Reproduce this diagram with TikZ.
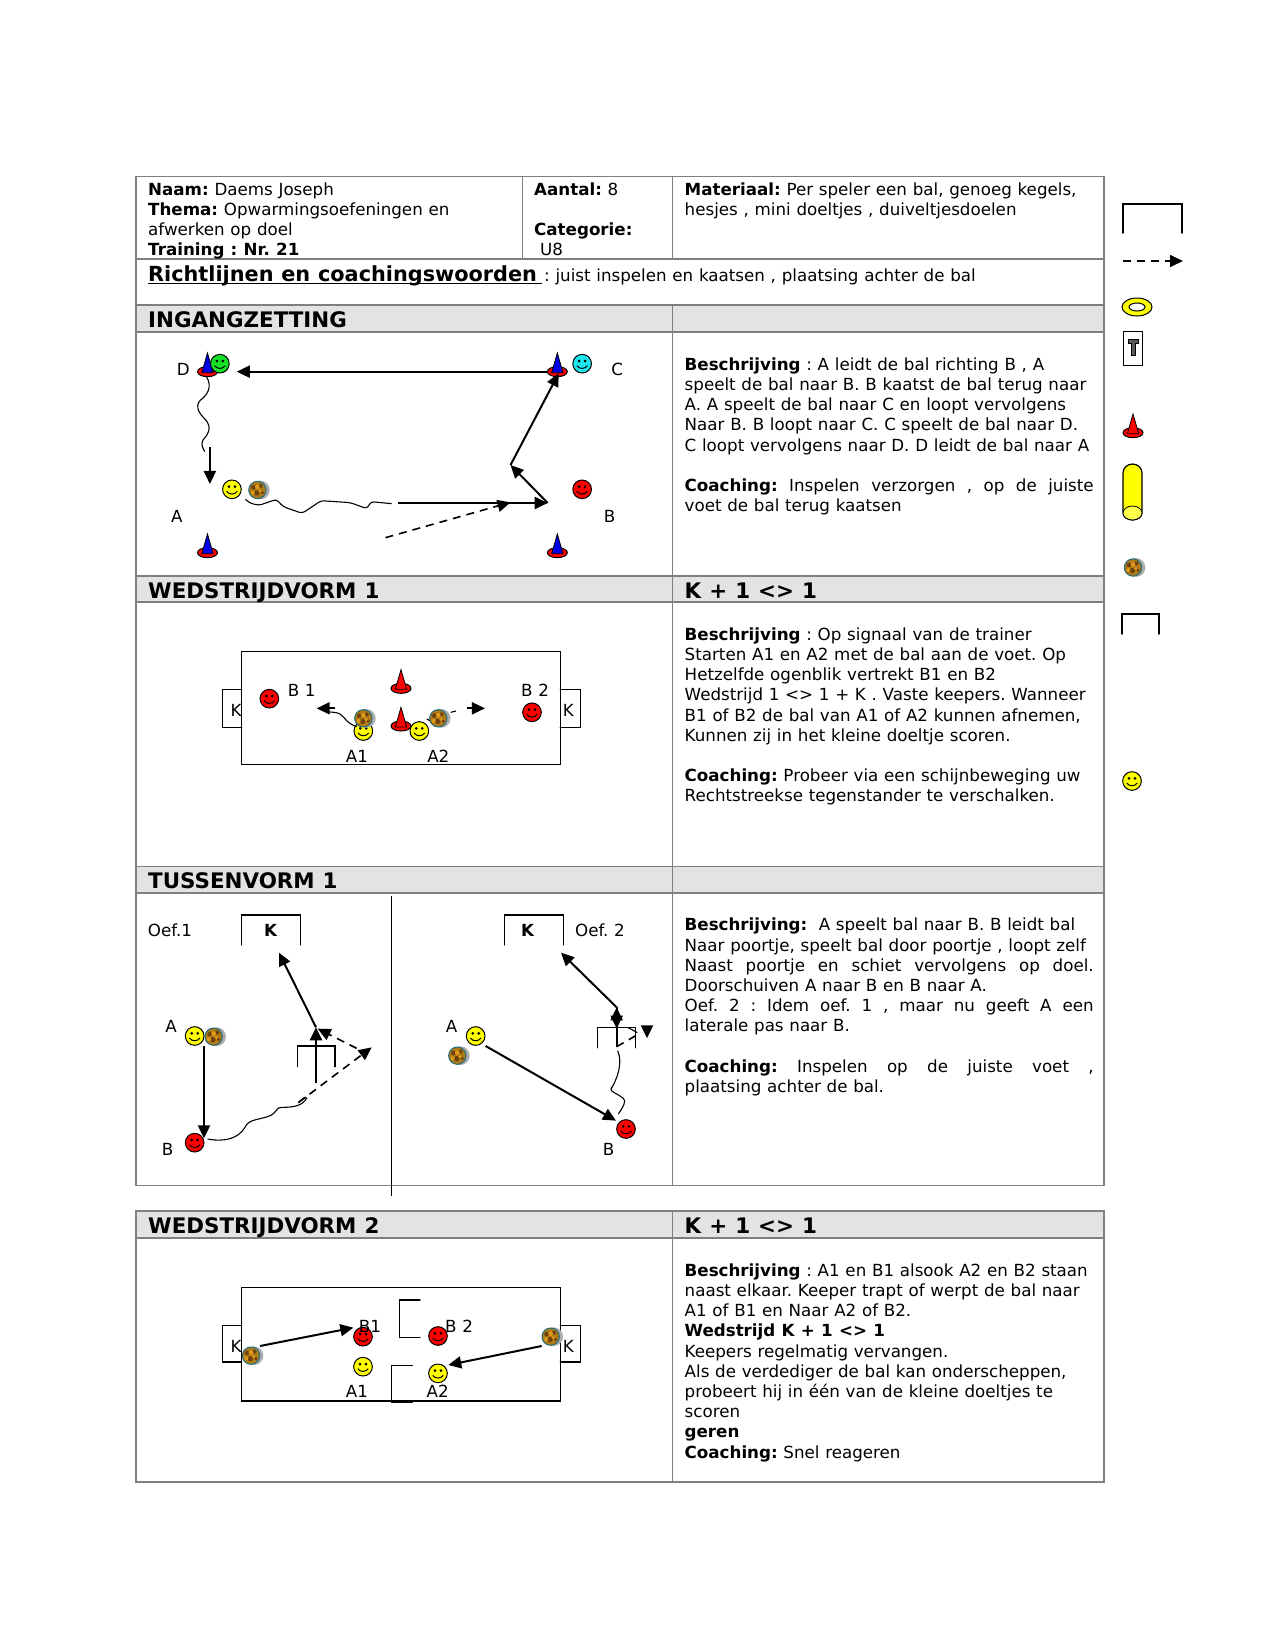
\documentclass[tikz,border=0pt]{standalone}
\usepackage{fontspec}
\setmainfont[WordSpace=1.08]{DejaVu Sans}
\usetikzlibrary{arrows.meta}
\definecolor{tline}{HTML}{7F7F7F}
\definecolor{band}{HTML}{E3E3E3}
\definecolor{ccyan}{RGB}{30,230,240}
\definecolor{cgreen}{RGB}{20,225,40}
\definecolor{cred}{RGB}{255,0,0}
\definecolor{cyel}{RGB}{255,255,0}
\definecolor{cblue}{RGB}{0,0,230}
\definecolor{ballbase}{HTML}{B07A14}
\definecolor{balldark}{HTML}{6E4210}
\definecolor{balllight}{HTML}{E09A1A}
\definecolor{ballring}{HTML}{1F6B80}
\tikzset{
  x=1pt,y=-1pt,
  tbl/.style={draw=tline,line width=1.5pt},
  txt/.style={anchor=north west,inner sep=0pt,align=left,font=\fontsize{16.7}{20.2}\selectfont},
  txttop/.style={anchor=north west,inner sep=0pt,align=left,font=\fontsize{16.7}{19.9}\selectfont},
  head/.style={anchor=base west,inner sep=0pt,font=\fontsize{21.4}{24}\selectfont\bfseries},
  lab/.style={inner sep=0pt,font=\fontsize{16.7}{20}\selectfont},
  arr/.style={line width=2pt,-{Triangle[length=13pt,width=12pt]}},
  dasharr/.style={line width=1.6pt,dash pattern=on 8pt off 6pt,-{Triangle[length=13pt,width=12pt]}},
  dsh/.style={line width=1.6pt,dash pattern=on 8pt off 6pt},
  wig/.style={line width=1.1pt,rounded corners=3pt},
  thinw/.style={line width=1.1pt},
  goal/.style={line width=1.4pt,line cap=round},
  zoomed/.style 2 args={shift={(#1,#2)},scale=1/3},
  every pic/.style={scale=1/3},
  smiley/.pic={
    \draw[fill=#1,line width=1pt] (0,0) circle[radius=28];
    \fill (-9,-8) circle[radius=4.5] (9,-8) circle[radius=4.5];
    \draw[line width=1pt] (-16,6) .. controls (-8,17) and (8,17) .. (16,6);
  },
  cone/.pic={
    \draw[fill=cred,line width=1pt] (0,0) ellipse[x radius=30,y radius=15];
    \draw[fill=#1,line width=.8pt] (0,-56) -- (17,3) -- (-17,3) -- cycle;
  },
  ball/.pic={
    \fill[black!32] (9,0) circle[radius=28];
    \draw[draw=ballring,fill=ballbase,line width=1pt] (0,0) circle[radius=26];
    \fill[balldark] (-12,-8) circle[radius=7];
    \fill[balldark] (10,-12) circle[radius=6];
    \fill[balldark] (-2,9) circle[radius=8];
    \fill[balldark] (15,8) circle[radius=5];
    \fill[balllight] (0,-9) circle[radius=7];
    \fill[balllight] (-14,8) circle[radius=6];
    \fill[balllight] (8,3) circle[radius=5];
  },
}
\newcommand{\jl}[1]{\makebox[409pt][s]{#1}}
\begin{document}
\frenchspacing
\begin{tikzpicture}
\useasboundingbox (0,0) rectangle (1275,1651);
% bands
\fill[band] (136,305) rectangle (1104,332);
\fill[band] (136,576) rectangle (1104,602);
\fill[band] (136,866.5) rectangle (1104,893);
\fill[band] (136,1211) rectangle (1104,1238);
% table lines
\draw[tbl] (136,176.5) rectangle (1104,1185.5);
\draw[tbl] (136,1211) rectangle (1104,1482);
\draw[tbl] (136,259) -- (1104,259);
\draw[tbl] (136,305) -- (1104,305);
\draw[tbl] (136,332) -- (1104,332);
\draw[tbl] (136,576) -- (1104,576);
\draw[tbl] (136,602) -- (1104,602);
\draw[tbl] (136,866.5) -- (1104,866.5);
\draw[tbl] (136,893) -- (1104,893);
\draw[tbl] (136,1238) -- (1104,1238);
\draw[tbl] (522.5,176.5) -- (522.5,259);
\draw[tbl] (672.7,176.5) -- (672.7,259);
\draw[tbl] (672.7,305) -- (672.7,1185.5);
\draw[tbl] (672.7,1211) -- (672.7,1482);
% top cells
\node[txttop] (naam) at (148,181.3) {\strut\textbf{Naam:} Daems Joseph\\\textbf{Thema:} Opwarmingsoefeningen en\\afwerken op doel\\\textbf{Training : Nr. 21}};
\node[txttop] (aantal) at (534,181.3) {\strut\textbf{Aantal:} 8\\[19.9pt]\textbf{Categorie:}\\\hspace*{6pt}U8};
\node[txttop] (mat) at (684.5,181.3) {\strut\textbf{Materiaal:} Per speler een bal, genoeg kegels,\\hesjes , mini doeltjes , duiveltjesdoelen};
\node[anchor=base west,inner sep=0pt,font=\fontsize{20.8}{24}\selectfont\bfseries] (richt) at (148,281) {Richtlijnen en coachingswoorden};
\coordinate (ulA) at (148,283.5);
\coordinate (ulB) at (542,283.5);
\draw[line width=1.7pt] (ulA) -- (ulB);
\node[anchor=base west,inner sep=0pt,font=\fontsize{16.7}{20}\selectfont] (richt2) at (544,281) {: juist inspelen en kaatsen , plaatsing achter de bal};
% headers
\node[head] (h1) at (148,327.5) {INGANGZETTING};
\node[head] (h2) at (148,598) {WEDSTRIJDVORM 1};
\node[head] (h2b) at (684.5,598) {K + 1 <> 1};
\node[head] (h3) at (148,888.5) {TUSSENVORM 1};
\node[head] (h4) at (148,1233) {WEDSTRIJDVORM 2};
\node[head] (h4b) at (684.5,1233) {K + 1 <> 1};
% descriptions
\node[txt] (d1) at (684.5,356) {\strut\textbf{Beschrijving} : A leidt de bal richting B , A\\speelt de bal naar B. B kaatst de bal terug naar\\A. A speelt de bal naar C en loopt vervolgens\\Naar B. B loopt naar C. C speelt de bal naar D.\\C loopt vervolgens naar D. D leidt de bal naar A\\[20.2pt]\jl{\textbf{Coaching:} Inspelen verzorgen , op de juiste}\\voet de bal terug kaatsen};
\node[txt] (d2) at (684.5,626) {\strut\textbf{Beschrijving} : Op signaal van de trainer\\Starten A1 en A2 met de bal aan de voet. Op\\Hetzelfde ogenblik vertrekt B1 en B2\\Wedstrijd 1 <> 1 + K . Vaste keepers. Wanneer\\B1 of B2 de bal van A1 of A2 kunnen afnemen,\\Kunnen zij in het kleine doeltje scoren.\\[20.2pt]\textbf{Coaching:} Probeer via een schijnbeweging uw\\Rechtstreekse tegenstander te verschalken.};
\node[txt] (d3) at (684.5,916.5) {\strut\textbf{Beschrijving:} \ A speelt bal naar B. B leidt bal\\Naar poortje, speelt bal door poortje , loopt zelf\\\jl{Naast poortje en schiet vervolgens op doel.}\\Doorschuiven A naar B en B naar A.\\\jl{Oef. 2 : Idem oef. 1 , maar nu geeft A een}\\laterale pas naar B.\\[20.2pt]\jl{\textbf{Coaching:} Inspelen op de juiste voet ,}\\plaatsing achter de bal.};
\node[txt] (d4) at (684.5,1262) {\strut\textbf{Beschrijving} : A1 en B1 alsook A2 en B2 staan\\naast elkaar. Keeper trapt of werpt de bal naar\\A1 of B1 en Naar A2 of B2.\\\textbf{Wedstrijd K + 1 <> 1}\\Keepers regelmatig vervangen.\\Als de verdediger de bal kan onderscheppen,\\probeert hij in één van de kleine doeltjes te\\scoren\\\textbf{geren}\\\textbf{Coaching:} Snel reageren};

% INGANGZETTING
\begin{scope}[shift={(130,170)},xscale=1/2.904,yscale=1/3]
  \pic at (225,605) {cone=cblue};
  \pic at (1241,605) {cone=cblue};
  \pic at (225,1148) {cone=cblue};
  \pic at (1241,1148) {cone=cblue};
  \pic at (261,581) {smiley=cgreen};
  \pic at (1313,581) {smiley=ccyan};
  \pic at (296,958) {smiley=cyel};
  \pic at (1313,958) {smiley=cred};
  \pic at (370,960) {ball};
  \node[lab] (lD) at (155,597) {D};
  \node[lab] (lC) at (1415,597) {C};
  \node[lab] (lA) at (136,1038) {A};
  \node[lab] (lB) at (1393,1038) {B};
  \coordinate (cC) at (1213,605);
  \coordinate (cD) at (310,605);
  \coordinate (cE) at (232,830);
  \coordinate (cF) at (232,942);
  \coordinate (cG) at (777,999);
  \coordinate (cH) at (1213,999);
  \coordinate (cI) at (1105,885);
  \coordinate (cJ) at (1245,610);
  \coordinate (cK) at (742,1103);
  \coordinate (cL) at (1105,997);
  \draw[arr] (cC) -- (cD);
  \draw[arr] (cE) -- (cF);
  \draw[arr] (cG) -- (cH);
  \draw[arr] (cH) -- (cI);
  \draw[arr] (cI) -- (cJ);
  \draw[dasharr] (cK) -- (cL);
  \draw[thinw] (222,620) .. controls (240,650) and (225,675) .. (205,690) .. controls (185,710) and (205,735) .. (220,750) .. controls (240,775) and (225,795) .. (212,810) .. controls (205,825) and (212,835) .. (217,845);
  \draw[wig] (335,988) -- (350,1000) -- (375,1006) -- (425,988) -- (445,1010) -- (500,1030) -- (555,992) -- (640,998) -- (688,1016) -- (700,995) -- (760,1001);
\end{scope}

% WEDSTRIJDVORM 1
\begin{scope}[zoomed={200}{630}]
  \draw[goal] (125,65) rectangle (1081,403);
  \draw[goal] (125,178) -- (67,178) -- (67,292) -- (125,292);
  \draw[goal] (1081,178) -- (1142,178) -- (1142,292) -- (1081,292);
  \node[lab] (k1) at (108,240) {K};
  \node[lab] (k2) at (1105,240) {K};
  \pic at (208,206) {smiley=cred};
  \pic at (996,247) {smiley=cred};
  \pic at (490,303) {smiley=cyel};
  \pic at (658,303) {smiley=cyel};
  \pic at (490,265) {ball};
  \pic at (715,265) {ball};
  \pic at (603,175) {cone=cred};
  \pic at (603,288) {cone=cred};
  \node[lab] (b1) at (305,180) {B 1};
  \node[lab] (b2) at (1005,180) {B 2};
  \node[lab] (a1) at (471,380) {A1};
  \node[lab] (a2) at (715,380) {A2};
  \coordinate (wA) at (405,235);
  \coordinate (wB) at (350,235);
  \coordinate (wC) at (800,235);
  \coordinate (wD) at (855,235);
  \draw[arr] (wA) -- (wB);
  \draw[arr] (wC) -- (wD);
  \draw[thinw] (470,290) .. controls (440,280) and (435,262) .. (420,252) .. controls (410,246) and (395,247) .. (380,245);
  \draw[thinw] (752,247) -- (768,243);
  \draw[thinw] (680,267) -- (690,272);
\end{scope}

% TUSSENVORM oef 1
\begin{scope}[zoomed={135}{890}]
  \draw[line width=1.4pt] (770,18) -- (770,918);
  \draw[goal] (320,165) -- (320,75) -- (496,75) -- (496,165);
  \node[lab,font=\fontsize{16.7}{20}\selectfont\bfseries] (kA) at (407,120) {K};
  \node[lab] (of1) at (105,120) {Oef.1};
  \node[lab] (tA) at (108,408) {A};
  \node[lab] (tB) at (98,778) {B};
  \pic at (179,438) {smiley=cyel};
  \pic at (236,440) {ball};
  \pic at (179,758) {smiley=cred};
  \draw[goal] (487,530) -- (487,468) -- (600,468) -- (600,530);
  \coordinate (oA) at (207,468);
  \coordinate (oB) at (207,745);
  \coordinate (oC) at (490,638);
  \coordinate (oD) at (710,472);
  \coordinate (oE) at (665,475);
  \coordinate (oF) at (548,416);
  \coordinate (oG) at (543,578);
  \coordinate (oH) at (543,412);
  \coordinate (oI) at (432,188);
  \draw[arr] (oA) -- (oB);
  \draw[dasharr] (oC) -- (oD);
  \draw[dasharr] (oE) -- (oF);
  \draw[arr] (oG) -- (oH);
  \draw[arr] (oH) -- (oI);
  \draw[thinw] (218,747) .. controls (270,757) and (310,745) .. (330,712) .. controls (340,685) and (380,690) .. (410,675) .. controls (425,665) and (425,652) .. (440,652) .. controls (470,652) and (500,650) .. (515,625) .. controls (510,615) and (500,630) .. (490,638);
\end{scope}

% TUSSENVORM oef 2
\begin{scope}[zoomed={400}{890}]
  \draw[goal] (313,165) -- (313,75) -- (490,75) -- (490,165);
  \node[lab,font=\fontsize{16.7}{20}\selectfont\bfseries] (kB) at (383,120) {K};
  \node[lab] (of2) at (600,120) {Oef. 2};
  \node[lab] (uA) at (155,408) {A};
  \node[lab] (uB) at (626,778) {B};
  \pic at (227,438) {smiley=cyel};
  \pic at (172,497) {ball};
  \pic at (678,717) {smiley=cred};
  \draw[goal] (592,473) -- (592,413) -- (707,413) -- (707,473);
  \coordinate (pA) at (257,468);
  \coordinate (pB) at (648,692);
  \coordinate (pC) at (650,470);
  \coordinate (pD) at (650,352);
  \coordinate (pE) at (483,188);
  \coordinate (pF) at (650,350);
  \coordinate (pG) at (650,416);
  \coordinate (pH) at (650,470);
  \coordinate (pI) at (716,432);
  \coordinate (pJ) at (685,413);
  \coordinate (pK) at (712,428);
  \coordinate (pL) at (741,412);
  \coordinate (pM) at (741,445);
  \draw[arr] (pA) -- (pB);
  \draw[arr] (pC) -- (pD);
  \draw[arr] (pD) -- (pE);
  \draw[arr] (pF) -- (pG);
  \draw[dsh] (pH) -- (pI);
  \draw[thinw] (pJ) -- (pK);
  \draw[arr] (pL) -- (pM);
  \draw[thinw] (655,672) .. controls (670,650) and (680,632) .. (670,625) .. controls (655,612) and (630,605) .. (633,597) .. controls (650,570) and (670,520) .. (653,482);
\end{scope}

% WEDSTRIJDVORM 2
\begin{scope}[zoomed={200}{1260}]
  \draw[goal] (125,82) rectangle (1081,423);
  \draw[goal] (125,196) -- (67,196) -- (67,306) -- (125,306);
  \draw[goal] (1081,196) -- (1142,196) -- (1142,306) -- (1081,306);
  \draw[goal] (660,120) -- (598,120) -- (598,232) -- (660,232);
  \draw[goal] (637,316) -- (574,316) -- (574,427) -- (637,427);
  \node[lab] (k3) at (108,260) {K};
  \node[lab] (k4) at (1105,260) {K};
  \pic at (153,287) {ball};
  \pic at (1052,230) {ball};
  \pic at (489,230) {smiley=cred};
  \pic at (714,228) {smiley=cred};
  \pic at (489,320) {smiley=cyel};
  \pic at (714,340) {smiley=cyel};
  \node[lab] (bb1) at (510,198) {B1};
  \node[lab] (bb2) at (777,198) {B 2};
  \node[lab] (aa1) at (471,395) {A1};
  \node[lab] (aa2) at (713,395) {A2};
  \coordinate (qA) at (180,258);
  \coordinate (qB) at (460,203);
  \coordinate (qC) at (1025,258);
  \coordinate (qD) at (745,315);
  \draw[arr] (qA) -- (qB);
  \draw[arr] (qC) -- (qD);
\end{scope}

% legend
\coordinate (leA) at (1123,261);
\coordinate (leB) at (1183,261);
\draw[goal] (1123,233) -- (1123,204) -- (1182,204) -- (1182,233);
\draw[dasharr] (leA) -- (leB);
\draw[fill=cyel,line width=1pt,even odd rule] (1137,307) ellipse[x radius=15,y radius=9] (1137,307) ellipse[x radius=8,y radius=4];
\draw[line width=.8pt,fill=white] (1123,331) rectangle (1142,365);
\draw[line width=.8pt,fill=black!65] (1128,339) -- (1138,339) -- (1138,343) -- (1135,343) -- (1135,355) -- (1131,355) -- (1131,343) -- (1128,343) -- cycle;
\pic at (1133,432.7) {cone=cred};
\draw[line width=1.2pt,fill=cyel] (1123,513) -- (1123,473) arc[start angle=180,end angle=360,x radius=9.5,y radius=9] -- (1142,513) arc[start angle=0,end angle=180,x radius=9.5,y radius=7] -- cycle;
\draw[line width=.8pt,fill=cyel!70] (1132.5,513) ellipse[x radius=9.5,y radius=7];
\pic at (1133,567.5) {ball};
\draw[goal] (1122,634) -- (1122,614) -- (1159,614) -- (1159,634);
\pic at (1132,781) {smiley=cyel};
\end{tikzpicture}
\end{document}
